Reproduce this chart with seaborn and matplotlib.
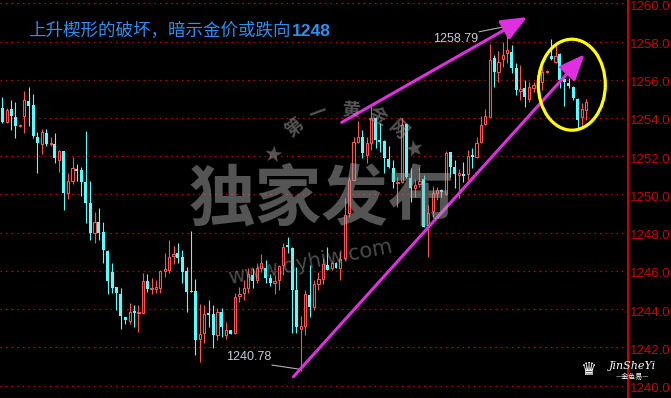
import numpy as np
import pandas as pd
import matplotlib
matplotlib.use("Agg")
import matplotlib.pyplot as plt
import seaborn as sns
from matplotlib.patches import Ellipse
from matplotlib.transforms import ScaledTranslation

# ---------------- data ----------------
open_ = [1254.51, 1253.77, 1254.47, 1254.03, 1253.58, 1254.12, 1254.89, 1254.68, 1252.99, 1252.65,
         1253.23, 1252.64, 1252.64, 1251.80, 1252.27, 1250.09, 1250.70, 1251.33, 1251.28, 1250.65,
         1249.53, 1247.97, 1248.56, 1248.03, 1247.04, 1245.94, 1245.17, 1244.79, 1243.60, 1243.39,
         1243.90, 1243.78, 1243.81, 1245.47, 1245.04, 1245.07, 1245.12, 1246.01, 1246.04, 1246.77,
         1246.95, 1246.71, 1245.99, 1244.91, 1244.94, 1242.43, 1242.76, 1243.79, 1243.74, 1242.64,
         1243.83, 1242.64, 1242.90, 1242.73, 1244.68, 1244.86, 1245.12, 1245.78, 1245.52, 1246.16,
         1246.13, 1245.64, 1245.35, 1245.52, 1246.30, 1247.35, 1247.18, 1245.00, 1242.95, 1243.11,
         1244.74, 1244.11, 1245.31, 1245.56, 1246.30, 1246.13, 1246.43, 1246.13, 1246.66, 1249.01,
         1250.75, 1252.76, 1252.99, 1252.06, 1252.67, 1254.01, 1252.85, 1252.79, 1251.85, 1251.37,
         1250.61, 1250.66, 1253.67, 1250.84, 1250.32, 1250.54, 1250.79, 1248.35, 1249.15, 1250.09,
         1250.23, 1250.01, 1252.20, 1251.42, 1251.02, 1251.07, 1251.07, 1252.06, 1251.94, 1252.76,
         1253.68, 1254.07, 1257.12, 1256.42, 1257.07, 1257.38, 1257.47, 1256.60, 1255.43, 1255.55,
         1254.99, 1255.55, 1255.90, 1255.90, 1256.40, 1257.24, 1256.94, 1257.35, 1256.02, 1255.85,
         1255.64, 1254.98, 1254.07, 1254.42]
high = [1255.08, 1254.51, 1254.94, 1254.82, 1253.66, 1255.41, 1255.62, 1255.25, 1253.25, 1253.41,
        1253.41, 1252.99, 1253.20, 1252.32, 1252.27, 1251.10, 1251.97, 1251.59, 1251.45, 1253.32,
        1250.70, 1249.08, 1249.27, 1248.54, 1247.09, 1246.40, 1245.17, 1245.12, 1243.60, 1244.30,
        1244.21, 1244.21, 1245.87, 1245.82, 1245.61, 1245.52, 1246.04, 1246.92, 1247.61, 1247.30,
        1247.47, 1247.09, 1246.22, 1248.09, 1245.56, 1244.26, 1244.21, 1244.47, 1244.21, 1244.04,
        1244.04, 1243.34, 1242.90, 1244.82, 1245.17, 1245.52, 1246.13, 1246.13, 1246.43, 1246.87,
        1246.57, 1245.82, 1245.78, 1246.30, 1247.44, 1247.76, 1247.26, 1246.22, 1243.64, 1245.00,
        1246.30, 1245.52, 1245.94, 1246.67, 1247.25, 1246.46, 1246.46, 1247.00, 1249.80, 1250.93,
        1253.02, 1253.86, 1253.37, 1253.02, 1254.63, 1254.07, 1253.72, 1252.85, 1252.53, 1251.80,
        1250.93, 1253.98, 1253.75, 1251.37, 1250.79, 1251.42, 1251.02, 1249.45, 1250.44, 1250.40,
        1250.27, 1252.27, 1252.23, 1251.80, 1251.31, 1251.71, 1252.32, 1252.41, 1253.02, 1254.10,
        1254.45, 1257.87, 1257.30, 1257.52, 1257.99, 1258.79, 1257.82, 1256.86, 1256.77, 1255.99,
        1255.90, 1255.90, 1256.42, 1256.68, 1256.50, 1258.12, 1257.98, 1257.38, 1256.08, 1256.08,
        1255.67, 1255.03, 1254.77, 1254.99]
low = [1253.72, 1253.72, 1253.37, 1252.97, 1253.53, 1253.23, 1253.58, 1252.97, 1251.14, 1252.11,
       1252.53, 1252.53, 1251.66, 1251.19, 1249.18, 1249.78, 1250.54, 1250.70, 1249.92, 1248.49,
       1247.61, 1247.44, 1247.61, 1246.40, 1244.79, 1244.86, 1243.95, 1242.97, 1243.20, 1243.22,
       1243.08, 1242.82, 1243.78, 1244.91, 1244.79, 1244.82, 1244.82, 1245.69, 1245.87, 1246.34,
       1246.40, 1245.35, 1243.86, 1244.91, 1241.60, 1241.25, 1242.21, 1243.08, 1241.95, 1242.38,
       1242.55, 1242.42, 1242.70, 1242.70, 1244.39, 1244.47, 1244.86, 1245.09, 1245.35, 1245.96,
       1245.38, 1245.22, 1244.77, 1245.00, 1245.78, 1246.92, 1242.73, 1242.73, 1240.78, 1242.64,
       1243.60, 1243.95, 1245.00, 1245.31, 1246.04, 1246.04, 1246.13, 1245.52, 1246.57, 1248.83,
       1250.75, 1252.67, 1251.89, 1251.66, 1252.32, 1252.41, 1252.23, 1251.10, 1251.37, 1250.32,
       1249.36, 1250.58, 1250.88, 1249.62, 1249.88, 1250.37, 1248.31, 1246.74, 1248.83, 1249.71,
       1249.85, 1249.97, 1250.93, 1250.32, 1249.80, 1250.66, 1250.75, 1251.37, 1251.90, 1252.71,
       1253.63, 1254.07, 1255.64, 1255.90, 1256.68, 1256.86, 1256.34, 1255.20, 1254.94, 1254.56,
       1254.85, 1255.37, 1255.46, 1255.46, 1256.34, 1257.03, 1256.88, 1255.55, 1254.63, 1255.55,
       1254.94, 1253.47, 1253.54, 1253.89]
close = [1253.80, 1254.42, 1254.12, 1253.58, 1253.61, 1254.94, 1254.63, 1253.06, 1252.71, 1253.27,
         1252.64, 1252.71, 1251.92, 1252.27, 1250.09, 1250.70, 1251.37, 1251.22, 1250.66, 1249.53,
         1248.00, 1248.56, 1248.00, 1247.09, 1245.47, 1245.12, 1244.86, 1243.65, 1243.43, 1243.83,
         1243.81, 1243.86, 1245.47, 1245.05, 1245.08, 1245.14, 1245.99, 1246.08, 1246.71, 1246.88,
         1246.66, 1245.96, 1244.91, 1244.91, 1242.38, 1242.70, 1243.74, 1243.69, 1242.64, 1243.86,
         1243.08, 1242.90, 1242.70, 1244.65, 1244.77, 1245.09, 1245.84, 1245.48, 1246.13, 1246.43,
         1245.61, 1245.35, 1245.47, 1246.27, 1247.26, 1247.23, 1245.00, 1243.08, 1243.10, 1244.77,
         1244.12, 1245.31, 1245.56, 1246.36, 1246.04, 1246.40, 1246.13, 1246.60, 1248.92, 1250.75,
         1252.73, 1252.99, 1252.15, 1252.67, 1254.01, 1252.85, 1252.74, 1251.92, 1251.42, 1250.66,
         1250.66, 1253.63, 1250.90, 1250.32, 1250.49, 1250.70, 1248.31, 1249.04, 1250.06, 1250.23,
         1250.14, 1252.18, 1251.42, 1251.07, 1251.10, 1250.96, 1252.01, 1251.94, 1252.67, 1253.63,
         1254.10, 1257.03, 1256.42, 1256.94, 1257.30, 1257.56, 1256.60, 1255.46, 1255.50, 1255.08,
         1255.60, 1255.72, 1256.25, 1256.42, 1256.44, 1257.07, 1257.24, 1255.99, 1255.90, 1255.67,
         1255.03, 1253.89, 1254.45, 1254.85]

y_ticks = [1240, 1242, 1244, 1246, 1248, 1250, 1252, 1254, 1256, 1258, 1260]
title_main = "上升楔形的破坏，暗示金价或跌向"
title_target = "1248"
high_label = "1258.79"
low_label = "1240.78"
watermark = "独家发布"
arc_chars = ["★", "第", "一", "黄", "金", "网", "★"]

# ---------------- style ----------------
sns.set_theme(style="dark", rc={"axes.facecolor": "black", "figure.facecolor": "black"})
plt.rcParams["font.family"] = ["Noto Sans CJK SC", "DejaVu Sans"]

RED = "#ff5252"
CYAN = "#55ffff"
GRID = "#c00000"
AXRED = "#e00000"
MAG = "#e22ee2"

df = pd.DataFrame({"open": open_, "high": high, "low": low, "close": close})
df["x"] = np.arange(len(df))
up = df[df.close > df.open]
dn = df[df.close < df.open]
fl = df[df.close == df.open]

W, H = 671, 398
fig = plt.figure(figsize=(W / 100, H / 100), dpi=100)
ax = fig.add_axes([0, 0, 628 / W, 1])
ax.set_facecolor("black")

ax.set_xlim(-0.524, 142.5)
ax.set_ylim(1239.346, 1260.173)

# grid
for t in y_ticks:
    ax.axhline(t, color=GRID, lw=0.9, ls=(0, (1.2, 3.2)), zorder=1)

# wicks
ax.vlines(up.x, up.low, up.high, color=RED, lw=0.8, zorder=2)
ax.vlines(dn.x, dn.low, dn.high, color=CYAN, lw=0.8, zorder=2)
ax.vlines(fl.x, fl.low, fl.high, color="#c8c8c8", lw=0.8, zorder=2)

# bodies
mh = 0.04
ax.bar(up.x, np.maximum(up.close - up.open, mh), bottom=up.open, width=0.5,
       facecolor="black", edgecolor=RED, linewidth=0.8, zorder=3)
ax.bar(dn.x, np.maximum(dn.open - dn.close, mh), bottom=dn.close, width=0.68,
       color=CYAN, linewidth=0, zorder=3)
ax.bar(fl.x, mh, bottom=fl.open - mh / 2, width=0.68, color="#c8c8c8", linewidth=0, zorder=3)

# axis styling
for s in ["top", "left", "bottom"]:
    ax.spines[s].set_visible(False)
ax.spines["right"].set_color(AXRED)
ax.spines["right"].set_linewidth(1.3)
ax.set_xticks([])
ax.yaxis.tick_right()
ax.set_yticks(y_ticks)
ax.set_yticklabels([f"{t:.1f}" for t in y_ticks])
ax.tick_params(axis="y", length=0, pad=1.5, colors="#cc0000", labelsize=9.5)
for lab in ax.get_yticklabels():
    lab.set_family("Liberation Sans")
    lab.set_transform(lab.get_transform() + ScaledTranslation(0, -2 / 100, fig.dpi_scale_trans))
ax.grid(False)

# trend arrows
ax.annotate("", xy=(119.5, 1259.28), xytext=(77.3, 1253.77),
            arrowprops=dict(arrowstyle="-|>,head_length=1.3,head_width=0.55", color=MAG,
                            lw=2.2, shrinkA=0, shrinkB=0), zorder=6)
ax.annotate("", xy=(132.6, 1257.33), xytext=(66.3, 1240.46),
            arrowprops=dict(arrowstyle="-|>,head_length=1.3,head_width=0.55", color=MAG,
                            lw=2.2, shrinkA=0, shrinkB=0), zorder=6)

# yellow ellipse
ax.add_patch(Ellipse((129.7, 1255.74), 15.26, 4.76, fill=False, edgecolor="#ffff00",
                     lw=2.3, zorder=7))

# high / low labels
ax.text(103.2, 1258.13, high_label, color="#c8ccd6", fontsize=9, ha="center", va="center",
        family="Liberation Sans", zorder=5)
ax.plot([108.6, 114.5], [1258.51, 1258.78], color="#b0b0b0", lw=0.8, zorder=5)
ax.text(56.2, 1241.5, low_label, color="#c8ccd6", fontsize=9, ha="center", va="center",
        family="Liberation Sans", zorder=5)
ax.plot([61.4, 67.8], [1241.07, 1240.85], color="#b0b0b0", lw=0.8, zorder=5)

# title (CJK part + bold target number)
t1 = fig.text(28 / W, 1 - 31 / H, title_main, color="#2f8ff0", fontsize=12.6, ha="left",
              va="center", family=["Noto Sans CJK SC", "DejaVu Sans"])
fig.canvas.draw()
bb = t1.get_window_extent()
fig.text(bb.x1 / W + 1 / W, 1 - 31 / H, title_target, color="#2f8ff0", fontsize=12.6,
         weight="bold", ha="left", va="center", family="Liberation Sans")

# watermark
fig.text(322 / W, 1 - 200 / H, watermark, color="#a8a8a8", alpha=0.5, fontsize=48,
         ha="center", va="center", family="Noto Sans CJK SC", weight="bold")
cx, cy, r = 345, 187, 78
for ch, ang in zip(arc_chars, [155, 130, 110, 86, 65, 47, 30]):
    a = np.deg2rad(ang)
    px, py = cx + r * np.cos(a), cy - r * np.sin(a)
    fig.text(px / W, 1 - py / H, ch, color="#a8a8a8", alpha=0.5, fontsize=13, weight="bold",
             rotation=ang - 90, ha="center", va="center",
             family=["Noto Sans CJK SC", "DejaVu Sans"])
fig.text(310 / W, 1 - 262 / H, "www.dyhjw.com", color="#a8a8a8", alpha=0.45, fontsize=15,
         rotation=11, ha="center", va="center", family="DejaVu Sans")

# logo
fig.text(588 / W, 1 - 370 / H, "♛", color="white", fontsize=13, ha="center", va="center",
         family="DejaVu Sans")
fig.text(632 / W, 1 - 366 / H, "JinSheYi", color="white", fontsize=8, style="italic",
         ha="center", va="center", family="DejaVu Serif")
fig.text(632 / W, 1 - 377 / H, "—金色易—", color="white", fontsize=5, ha="center", va="center",
         family=["Noto Sans CJK SC", "DejaVu Sans"])

fig.savefig("out.png", dpi=100, facecolor="black")
